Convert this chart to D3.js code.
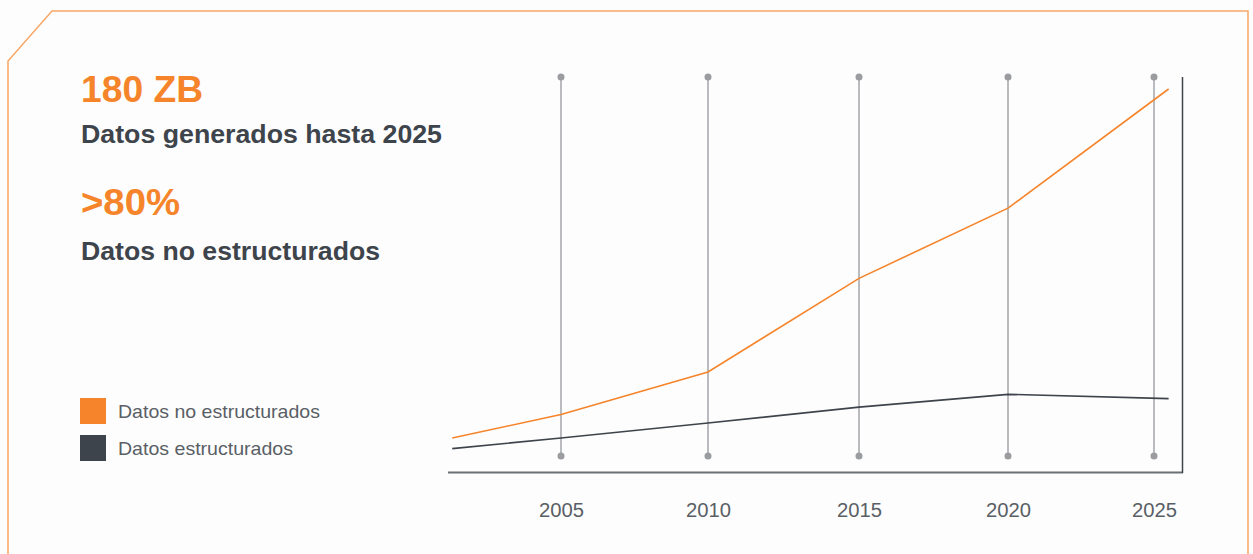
<!DOCTYPE html>
<html>
  <head>
    <meta charset="utf-8">
    <title>Datos generados hasta 2025</title>
    <script src="https://d3js.org/d3.v7.min.js"></script>
    <style>
      body { margin: 0; background: #fdfdfd; }
      svg { display: block; font-family: "Liberation Sans", Arial, Helvetica, sans-serif; }
    </style>
  </head>
  <body>
    <svg width="1253" height="554"></svg>

    <script>
      // data (ZB)
      const years = [2001.3, 2005, 2010, 2015, 2020, 2025.5];
      const noEstructurados = [16, 27, 47, 91, 124, 180];
      const estructurados = [11, 16, 23, 30.5, 36.5, 34.5];
      const tickYears = [2005, 2010, 2015, 2020, 2025];
      const legendLabels = ["Datos no estructurados", "Datos estructurados"];

      const orange = "#f5842a";
      const dark = "#3e444b";

      const svg = d3.select("svg");

      // frame with the cut corner
      svg.append("path")
        .attr("d", "M8,554 L8,61 L52,11 L1248,11 L1248,554")
        .attr("fill", "none")
        .attr("stroke", "#f7a868")
        .attr("stroke-width", 1.5);

      // headline texts
      const big = [["180 ZB", 102, 122], [">80%", 215, 99]];
      const sub = [["Datos generados hasta 2025", 143, 361], ["Datos no estructurados", 260, 299]];

      svg.selectAll("text.big").data(big).enter().append("text")
        .attr("class", "big")
        .attr("x", 81).attr("y", d => d[1])
        .attr("fill", orange)
        .attr("font-weight", "bold")
        .attr("font-size", 37)
        .attr("textLength", d => d[2])
        .attr("lengthAdjust", "spacingAndGlyphs")
        .text(d => d[0]);

      svg.selectAll("text.sub").data(sub).enter().append("text")
        .attr("class", "sub")
        .attr("x", 81).attr("y", d => d[1])
        .attr("fill", dark)
        .attr("font-weight", "bold")
        .attr("font-size", 25)
        .attr("textLength", d => d[2])
        .attr("lengthAdjust", "spacingAndGlyphs")
        .text(d => d[0]);

      // legend
      const legend = svg.selectAll("g.legend").data(legendLabels).enter().append("g")
        .attr("class", "legend")
        .attr("transform", (d, i) => `translate(80,${398 + i * 37})`);
      legend.append("rect")
        .attr("width", 26).attr("height", 26)
        .attr("fill", (d, i) => i === 0 ? orange : dark);
      legend.append("text")
        .attr("x", 38).attr("y", 20)
        .attr("font-size", 19)
        .attr("fill", "#5a5f66")
        .attr("textLength", (d, i) => i === 0 ? 202 : 175)
        .attr("lengthAdjust", "spacingAndGlyphs")
        .text(d => d);

      // scales
      const x = d3.scaleLinear().domain([2005, 2010, 2015, 2020, 2025]).range([561, 708, 859, 1008, 1154]);
      const y = d3.scaleLinear().domain([0, 180]).range([472, 89]);

      // vertical grid lines with dots
      const grid = svg.selectAll("g.grid").data(tickYears).enter().append("g")
        .attr("class", "grid");
      grid.append("line")
        .attr("x1", d => x(d)).attr("x2", d => x(d))
        .attr("y1", 77).attr("y2", 456)
        .attr("stroke", "#b9bbbe")
        .attr("stroke-width", 2);
      grid.selectAll("circle").data(d => [[d, 77], [d, 456]]).enter().append("circle")
        .attr("cx", d => x(d[0])).attr("cy", d => d[1])
        .attr("r", 3.5)
        .attr("fill", "#9a9c9f");

      // axes: bottom and right lines, year labels
      const xAxis = d3.axisBottom(x).tickValues(tickYears).tickFormat(d3.format("d")).tickSize(0).tickPadding(31);
      const gx = svg.append("g").attr("transform", "translate(0,472)").call(xAxis);
      gx.select(".domain").remove();
      gx.selectAll("text")
        .attr("font-family", "'Liberation Sans', Arial, sans-serif")
        .attr("font-size", 20)
        .attr("fill", "#5a5f66")
        .attr("textLength", 45)
        .attr("lengthAdjust", "spacingAndGlyphs");

      svg.append("line")
        .attr("x1", 448).attr("x2", 1183)
        .attr("y1", 472.5).attr("y2", 472.5)
        .attr("stroke", "#6b7077").attr("stroke-width", 2);
      svg.append("line")
        .attr("x1", 1182.5).attr("x2", 1182.5)
        .attr("y1", 77).attr("y2", 473)
        .attr("stroke", dark).attr("stroke-width", 1.5);

      // series lines
      const line = d3.line()
        .x((d, i) => x(years[i]))
        .y(d => y(d));

      svg.append("path")
        .datum(estructurados)
        .attr("d", line)
        .attr("fill", "none")
        .attr("stroke", dark)
        .attr("stroke-width", 1.6);

      svg.append("path")
        .datum(noEstructurados)
        .attr("d", line)
        .attr("fill", "none")
        .attr("stroke", orange)
        .attr("stroke-width", 1.6);
    </script>
  </body>
</html>
